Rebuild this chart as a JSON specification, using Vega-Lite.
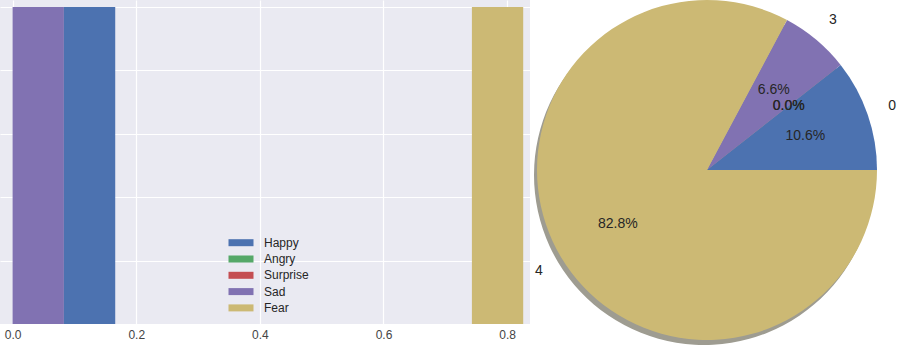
{
  "$schema": "https://vega.github.io/schema/vega-lite/v6.json",
  "padding": 0,
  "spacing": 0,
  "config": {"view": {"stroke": null}, "font": "Liberation Sans"},
  "datasets": {
    "hist": [
      {"emotion": "Sad", "bin_start": 0.0, "bin_end": 0.083, "height": 1.0},
      {"emotion": "Happy", "bin_start": 0.083, "bin_end": 0.166, "height": 1.0},
      {"emotion": "Fear", "bin_start": 0.743, "bin_end": 0.826, "height": 1.0}
    ],
    "pie": [
      {"idx": 0, "emotion": "Happy", "value": 10.6, "pct": "10.6%", "label": "0"},
      {"idx": 1, "emotion": "Angry", "value": 0.0, "pct": "0.0%", "label": ""},
      {"idx": 2, "emotion": "Surprise", "value": 0.0, "pct": "0.0%", "label": ""},
      {"idx": 3, "emotion": "Sad", "value": 6.6, "pct": "6.6%", "label": "3"},
      {"idx": 4, "emotion": "Fear", "value": 82.8, "pct": "82.8%", "label": "4"}
    ]
  },
  "resolve": {"scale": {"color": "independent"}},
  "hconcat": [
    {
      "width": 530,
      "height": 324,
      "view": {"fill": "#EAEAF2", "stroke": null},
      "data": {"name": "hist"},
      "mark": {"type": "rect"},
      "encoding": {
        "x": {
          "field": "bin_start", "type": "quantitative",
          "scale": {"domain": [-0.0204, 0.837], "nice": false, "zero": false},
          "axis": {"title": null, "values": [0, 0.2, 0.4, 0.6, 0.8], "format": ".1f", "grid": true, "gridColor": "white", "gridWidth": 1.2, "ticks": false, "domain": false, "labelFontSize": 12, "labelColor": "#444444", "labelPadding": 5}
        },
        "x2": {"field": "bin_end"},
        "y": {
          "field": "height", "type": "quantitative",
          "scale": {"domain": [0, 1.022], "nice": false},
          "axis": {"title": null, "labels": false, "ticks": false, "domain": false, "values": [0, 0.2, 0.4, 0.6, 0.8, 1.0], "grid": true, "gridColor": "white", "gridWidth": 1.2}
        },
        "y2": {"datum": 0},
        "color": {
          "field": "emotion", "type": "nominal",
          "scale": {"domain": ["Happy", "Angry", "Surprise", "Sad", "Fear"], "range": ["#4C72B0", "#55A868", "#C44E52", "#8172B2", "#CCB974"]},
          "legend": {"title": null, "orient": "none", "legendX": 235, "legendY": 236.7, "padding": 0, "symbolType": "M-3.125,-0.875H3.125V0.875H-3.125Z", "symbolSize": 64, "symbolStrokeWidth": 0, "symbolOpacity": 1, "labelFontSize": 12, "labelColor": "#262626", "labelOffset": 17, "rowPadding": 4.3}
        }
      }
    },
    {
      "width": 354,
      "height": 340,
      "data": {"name": "pie"},
      "layer": [
        {
          "mark": {"type": "arc", "radius": 170, "xOffset": -3, "yOffset": 5, "color": "#9e9c91"},
          "encoding": {
            "theta": {"field": "value", "type": "quantitative", "stack": true, "scale": {"range": [1.5708, -4.7124]}},
            "order": {"field": "idx", "type": "quantitative"}
          }
        },
        {
          "mark": {"type": "arc", "radius": 170},
          "encoding": {
            "theta": {"field": "value", "type": "quantitative", "stack": true},
            "color": {
              "field": "emotion", "type": "nominal",
              "scale": {"domain": ["Happy", "Angry", "Surprise", "Sad", "Fear"], "range": ["#4C72B0", "#55A868", "#C44E52", "#8172B2", "#CCB974"]},
              "legend": null
            },
            "order": {"field": "idx", "type": "quantitative"}
          }
        },
        {
          "mark": {"type": "text", "radius": 104, "fontSize": 14, "color": "#262626"},
          "encoding": {
            "theta": {"field": "value", "type": "quantitative", "stack": true},
            "detail": {"field": "emotion", "type": "nominal"},
            "order": {"field": "idx", "type": "quantitative"},
            "text": {"field": "pct", "type": "nominal"}
          }
        },
        {
          "mark": {"type": "text", "radius": 196, "fontSize": 14, "color": "#262626"},
          "encoding": {
            "theta": {"field": "value", "type": "quantitative", "stack": true},
            "detail": {"field": "emotion", "type": "nominal"},
            "order": {"field": "idx", "type": "quantitative"},
            "text": {"field": "label", "type": "nominal"}
          }
        }
      ]
    }
  ]
}
